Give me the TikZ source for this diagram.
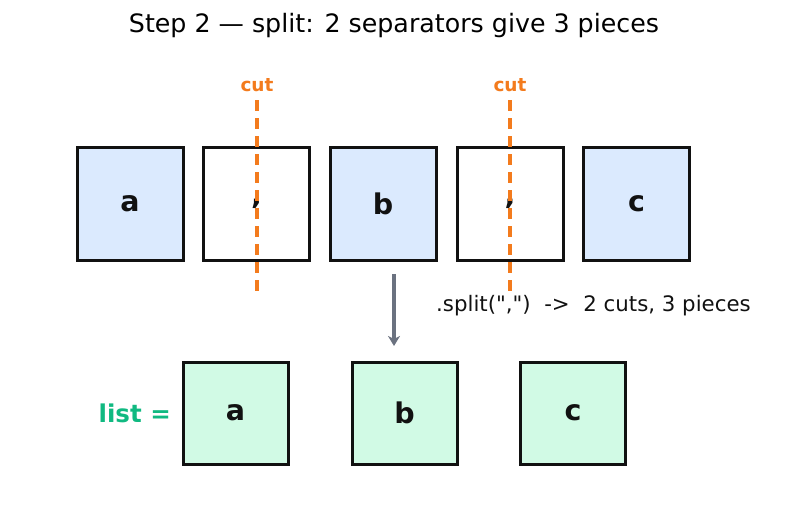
\documentclass[tikz,border=0pt]{standalone}
\usepackage{fontspec}
\setmainfont{DejaVu Sans}
\newfontfamily\notefont{DejaVu Sans}[Ligatures=TeXOff]
\usetikzlibrary{arrows.meta}
\definecolor{bluefill}{HTML}{DBEAFE}
\definecolor{greenfill}{HTML}{D1FAE5}
\definecolor{cutorange}{HTML}{F37B1D}
\definecolor{listgreen}{HTML}{10B981}
\definecolor{arrowgray}{HTML}{6B7280}
\definecolor{ink}{HTML}{111111}
\tikzset{
  x=1pt, y=-1pt,
  charbox/.style={draw=ink, line width=3pt, minimum width=106pt, minimum height=113pt, inner sep=0pt, font=\fontsize{28.5}{32}\selectfont\bfseries, text=ink},
  piecebox/.style={draw=ink, line width=3pt, fill=greenfill, minimum width=105pt, minimum height=102pt, inner sep=0pt, font=\fontsize{28.5}{32}\selectfont\bfseries, text=ink},
  cutline/.style={draw=cutorange, line width=3.5pt, dash pattern=on 11pt off 7pt},
  cutlabel/.style={text=cutorange, font=\fontsize{18.5}{22}\selectfont\bfseries},
}
\begin{document}
\begin{tikzpicture}
\useasboundingbox (0,0) rectangle (787,512);
\node (title) at (394,26) {\fontsize{25.3}{30}\selectfont Step 2 — split: 2 separators give 3 pieces};
\node[charbox, fill=bluefill] (a) at (130,203.5) {a};
\node[charbox, fill=white] (c1) at (256.5,203.5) {,};
\node[charbox, fill=bluefill] (b) at (383,203.5) {b};
\node[charbox, fill=white] (c2) at (510,203.5) {,};
\node[charbox, fill=bluefill] (c) at (636.5,203.5) {c};
\coordinate (cut1top) at (257,100);
\coordinate (cut1bot) at (257,293);
\coordinate (cut2top) at (510,100);
\coordinate (cut2bot) at (510,293);
\draw[cutline] (cut1top) -- (cut1bot);
\draw[cutline] (cut2top) -- (cut2bot);
\node[cutlabel] (cutlabel1) at (257,85) {cut};
\node[cutlabel] (cutlabel2) at (510,85) {cut};
\coordinate (arrtop) at (394,274);
\coordinate (arrbot) at (394,346);
\draw[arrowgray, line width=3.2pt, -{Stealth[length=10pt,width=12pt,inset=3pt]}] (arrtop) -- (arrbot);
\node[anchor=west, inner sep=0pt, text=ink] (note) at (436,306) {\notefont\fontsize{21.3}{25}\selectfont .split(",")\ \ ->\ \ 2 cuts, 3 pieces};
\node[piecebox] (pa) at (235.5,413) {a};
\node[piecebox] (pb) at (404.5,413) {b};
\node[piecebox] (pc) at (573,413) {c};
\node[anchor=east, inner sep=0pt, text=listgreen, font=\fontsize{24.5}{28}\selectfont\bfseries] (list) at (171,413) {list =};
\end{tikzpicture}
\end{document}
